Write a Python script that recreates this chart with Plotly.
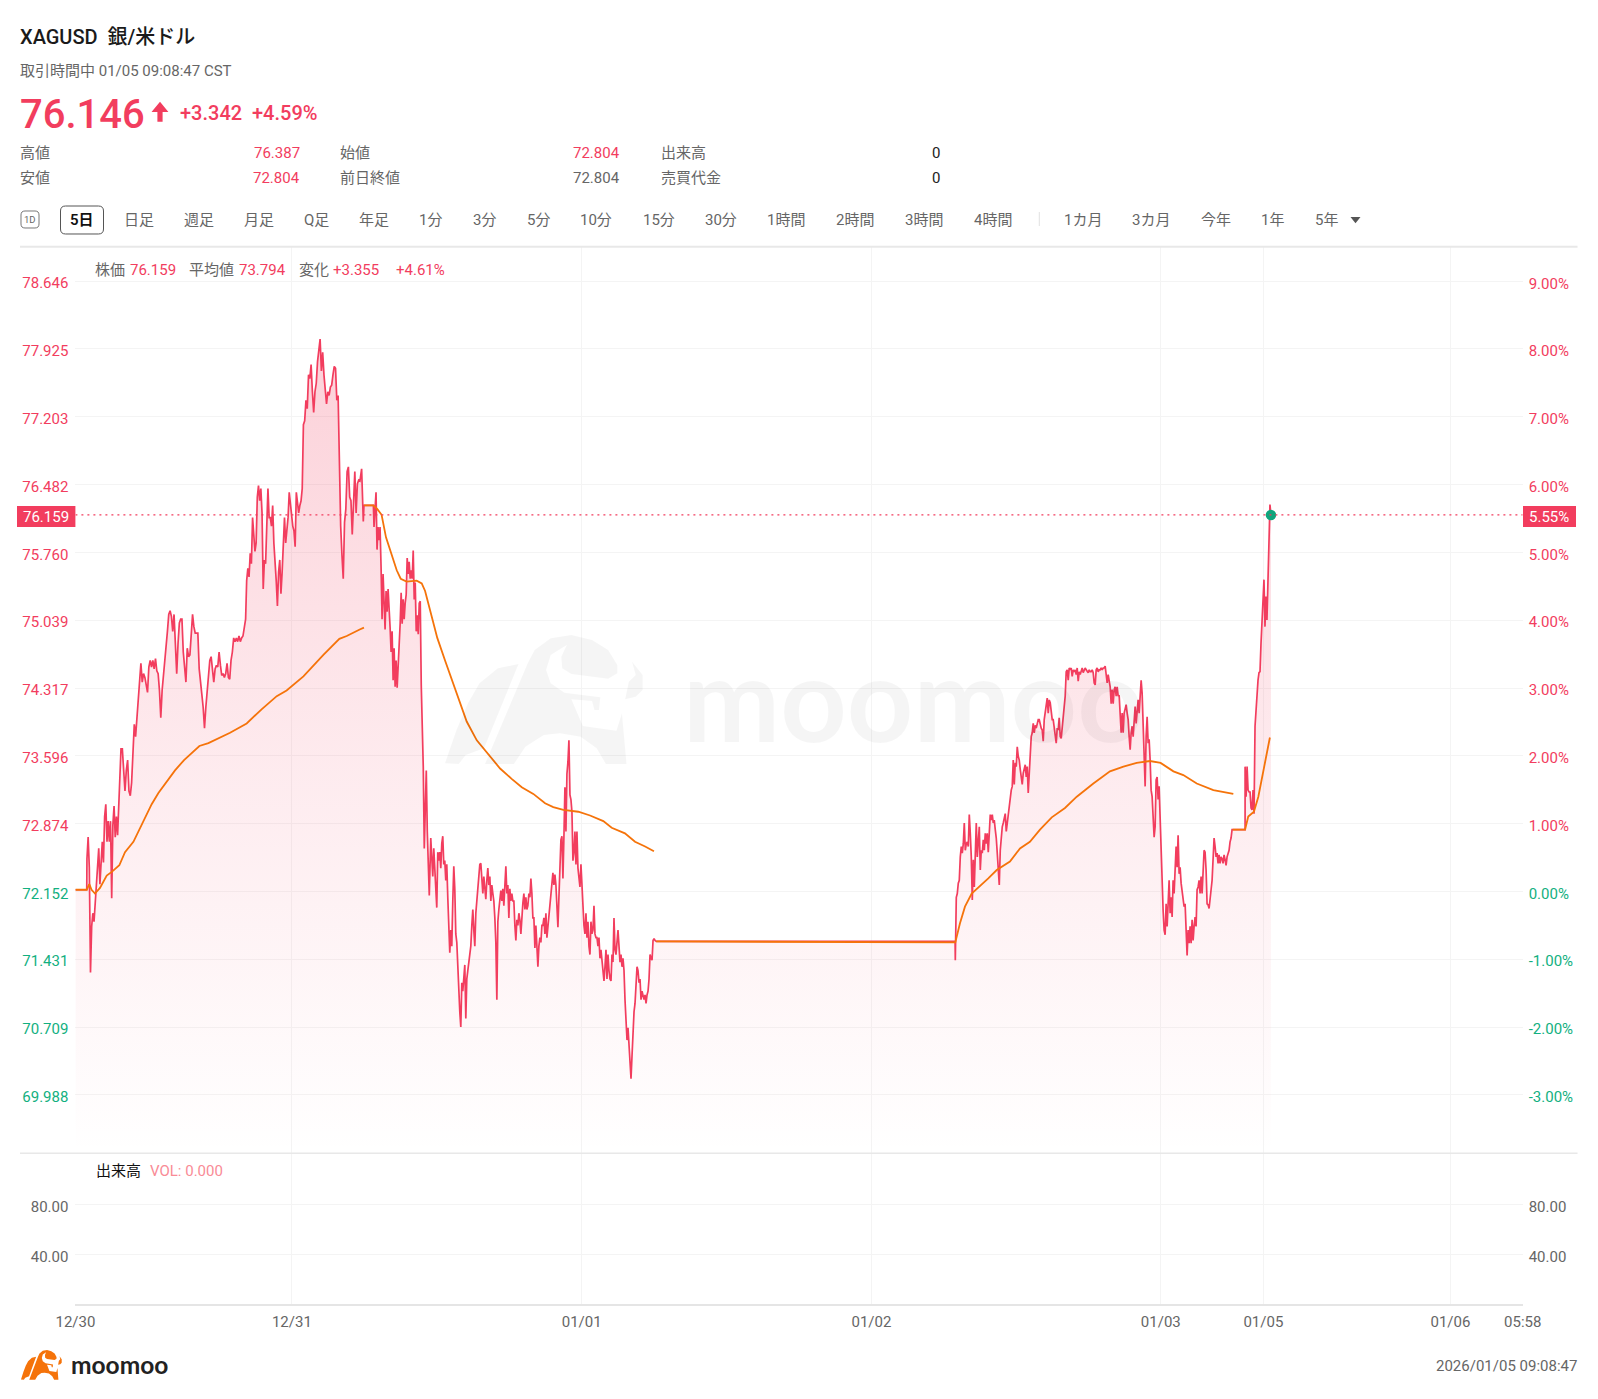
import numpy as np
import plotly.graph_objects as go

W, H = 1598, 1399
RED = "#F23D5E"
GREEN = "#12B07F"
ORANGE = "#F5730A"
GREY = "#666666"
GRID = "#F4F4F4"
FONT = "Roboto, 'Noto Sans CJK JP', sans-serif"

# ---------- data: minutes since 12/30 session open, prices ----------
price_base = 72.152
last_price = 76.159

price_open_flat = [72.17, 72.17]
price_1230_a = [72.50, 72.73, 72.41, 71.29, 71.78, 71.92, 71.83, 72.01, 72.23, 72.32, 72.61, 72.23, 72.50, 72.68, 72.46,
                72.95, 73.08, 72.68, 72.90, 72.68, 72.90, 72.08, 72.86, 73.06, 72.73, 72.95, 72.75, 73.04, 73.49]
price_1230_b = [73.67, 73.67, 73.44, 73.22, 73.44, 73.55, 73.22, 73.17, 73.31, 73.58, 73.93, 73.80, 73.98, 74.20, 74.43,
                74.58, 74.38, 74.47, 74.43, 74.34, 74.27, 74.54, 74.61, 74.54, 74.61, 74.52, 74.63, 74.50, 74.47, 74.29,
                74.00, 74.29, 74.43, 74.61, 74.79, 74.92, 75.10, 75.14, 75.08, 74.92, 75.10, 74.74, 74.47, 74.79, 75.01, 75.05]
price_1230_c = [75.05, 74.70, 74.54, 74.38, 74.74, 74.65, 74.67, 74.92, 75.10, 74.97, 74.90, 74.90, 74.90, 74.52, 74.34,
                74.25, 74.11, 73.89, 74.11, 74.29, 74.38, 74.61, 74.65, 74.52, 74.38, 74.52, 74.56, 74.54, 74.70, 74.56,
                74.45, 74.47, 74.43, 74.47, 74.58, 74.43, 74.41, 74.61, 74.70, 74.85, 74.81, 74.85, 74.81, 74.87, 74.81,
                74.85, 74.87, 74.96, 75.05]
price_1230_d = [75.46, 75.59, 75.50, 75.75, 75.64, 76.13, 75.95, 75.77, 75.86, 76.35, 76.47, 76.31, 76.44, 76.18, 75.37,
                75.68, 75.64, 75.95, 76.44, 76.13, 76.13, 76.04, 76.26, 75.86, 75.68, 75.46, 75.19, 75.55, 75.68, 75.32,
                75.55, 75.82, 76.13, 75.86, 75.99, 76.13, 76.40, 76.26, 76.18, 76.04, 75.99, 75.82, 76.40, 76.31, 76.18,
                76.26, 76.31, 76.44, 77.12]
price_1231_a = [77.16, 77.38, 77.29, 77.65, 77.61, 77.76, 77.47, 77.25, 77.47, 77.56, 77.79, 77.92, 78.03, 77.69, 77.89,
                77.65, 77.52, 77.34, 77.47, 77.43, 77.52, 77.54, 77.65, 77.74, 77.72, 77.38, 77.43, 76.53, 76.04, 75.73,
                75.48, 76.08, 76.22, 76.62, 76.67, 76.35, 76.31, 75.95, 76.35, 76.62, 76.18, 76.49, 76.53]
price_1231_b = [76.52, 76.65, 76.09]
price_1231_flat = [76.26, 76.26]
price_1231_c = [76.03, 76.22, 76.40, 75.79, 76.03, 75.89, 76.03, 75.61, 75.05, 75.53, 75.22, 74.94, 75.35, 75.13, 75.37,
                75.05, 74.96, 74.70, 74.92, 74.40, 74.74, 74.33, 74.61, 74.32, 74.53, 74.74, 75.00, 75.33, 75.00, 75.26,
                75.05, 75.22, 75.31, 75.70, 75.53, 75.66, 75.48, 75.57, 75.48, 75.78, 75.26, 75.44, 74.92, 75.09, 74.89,
                75.22, 75.24, 74.35, 73.92, 73.48, 72.61, 73.13, 73.44, 72.79, 72.35, 72.11]
price_1231_d = [72.72, 72.53, 72.31, 72.61, 72.35, 72.13, 71.98, 72.57, 72.48, 72.57, 72.40, 72.66, 72.74, 72.44, 72.48,
                72.27, 72.44, 72.09, 71.74, 71.50, 71.74, 71.57, 72.05, 72.42, 72.18, 71.70, 71.61, 71.31, 71.05, 70.87,
                70.71, 71.18, 71.09, 71.27, 71.37, 70.80, 71.22, 71.31, 71.40, 71.48, 71.57, 71.79, 71.96, 71.74, 71.57,
                71.92, 72.05, 72.18, 72.31, 72.44, 72.45, 72.22, 72.13, 72.31, 72.18, 72.07, 72.27, 72.40, 72.22, 72.31,
                72.05, 72.22, 72.13, 72.05, 71.87, 71.61, 71.00, 71.83, 71.96, 72.05, 72.16, 72.05, 72.18, 72.00, 72.22,
                72.42, 72.13, 72.22, 71.87, 72.18, 72.05, 72.13, 72.05, 72.05, 71.79, 71.63, 71.85, 71.79, 71.92, 71.85,
                71.70, 71.92, 72.03, 72.13, 71.96, 72.09, 71.96, 72.00, 72.13, 72.09, 72.29, 72.13, 71.87, 71.87, 71.55,
                71.79, 71.57, 71.35, 71.57, 71.66, 71.61, 71.79, 71.79, 71.87, 71.70, 71.92, 71.66, 71.79, 71.92, 72.05,
                72.09, 72.31, 72.35, 72.22, 72.33, 72.22, 71.87, 71.77, 72.09, 72.35, 72.70, 72.74, 72.29, 72.74, 73.26,
                72.79, 73.40, 73.53, 73.76, 73.18, 73.13, 73.00, 72.48, 72.57, 72.79, 72.44, 72.79, 72.40, 72.31, 72.20,
                72.44, 72.18, 71.96, 71.79, 71.70, 71.92, 71.66, 71.83, 71.57, 71.48, 71.83, 71.70, 71.74, 72.00, 71.70,
                71.66, 71.66, 71.57, 71.66, 71.44, 71.53, 71.40, 71.31, 71.20, 71.35, 71.53, 71.22, 71.48, 71.31, 71.22,
                71.20, 71.48, 71.40, 71.87, 71.53, 71.48, 71.61, 71.74, 71.57, 71.40, 71.48, 71.35, 71.44, 71.31, 71.00,
                70.83, 70.57, 70.70, 70.53, 70.40, 70.16, 70.40, 70.70, 70.87, 70.96, 71.18, 71.35, 71.31, 71.18, 71.22,
                71.00, 71.09, 71.05, 71.00, 71.05, 70.96, 71.05, 71.09, 71.22, 71.48, 71.44, 71.42, 71.63, 71.65, 71.63, 71.62]
price_closed_flat = [71.62, 71.62]
price_0102 = [71.42, 72.09, 72.13, 72.24, 72.27, 72.52, 72.63, 72.56, 72.66, 72.88, 72.59, 72.66, 72.68, 72.63, 72.97,
              72.77, 72.52, 72.06, 72.49, 72.20, 72.52, 72.88, 72.52, 72.70, 72.84, 72.38, 72.59, 72.56, 72.70, 72.59,
              72.77, 72.66, 72.77, 72.57, 72.84, 72.97, 72.91, 72.97, 72.88, 72.91, 72.81, 72.72, 72.56, 72.38, 72.22,
              72.59, 72.77, 72.84, 72.88, 72.93, 72.98, 72.79, 72.88, 72.98, 73.09, 73.16, 73.23, 73.27, 73.55, 73.29,
              73.52, 73.48, 73.69, 73.59, 73.55, 73.45, 73.37, 73.29, 73.41, 73.48, 73.50, 73.37, 73.48, 73.20, 73.41,
              73.66, 73.80, 73.84, 73.94, 73.84, 73.92, 73.89, 73.94, 73.98, 73.98, 73.91, 73.89, 73.87, 73.75, 73.98,
              74.05, 74.12, 74.21, 74.05, 74.19, 74.16, 74.08, 73.98, 73.98, 73.87, 73.80, 73.73, 73.89, 73.87, 74.00,
              73.80, 73.78, 73.89, 73.98, 74.08, 74.23, 74.49, 74.51, 74.40, 74.53, 74.51, 74.53, 74.44, 74.51, 74.49,
              74.51, 74.46, 74.53, 74.39, 74.49, 74.46, 74.51, 74.53, 74.48, 74.51, 74.53, 74.51, 74.49, 74.48, 74.51,
              74.49, 74.49, 74.51, 74.48, 74.37, 74.35, 74.51, 74.53, 74.49, 74.51, 74.51, 74.53, 74.51, 74.53, 74.53,
              74.55, 74.46, 74.37, 74.46, 74.40, 74.33, 74.15, 74.30, 74.15, 74.30, 74.33, 74.23, 74.33, 74.23, 74.24,
              74.08, 73.84, 74.05, 73.84, 74.05, 74.12, 74.14, 74.05, 73.98, 73.80, 73.66, 73.84, 73.91, 73.80, 73.98,
              74.12, 73.94, 74.08, 74.19, 74.05, 74.33, 74.40, 74.26, 73.84, 73.52, 73.27, 73.80, 74.01, 73.73, 73.77,
              73.55, 73.23, 73.16, 72.98, 72.73, 72.84, 73.34, 73.37, 73.13, 73.27, 72.95, 72.41, 72.13, 71.95, 71.74,
              71.69, 72.02, 71.78, 72.02, 72.27, 71.92, 72.09, 71.88, 72.27, 72.13, 72.41, 72.63, 72.41, 72.75, 72.34,
              72.41, 72.24, 72.13, 72.06, 71.99, 72.02, 71.78, 71.47, 71.74, 71.60, 71.78, 71.60, 71.85, 71.63, 71.78,
              71.88, 71.78, 72.17, 72.20, 72.27, 72.13, 72.31, 72.13, 72.31, 72.59, 72.57, 72.38, 72.02, 72.01, 71.97,
              72.13, 72.17, 72.27, 72.45, 72.72, 72.63, 72.52, 72.56, 72.45, 72.54, 72.45, 72.52, 72.50, 72.45, 72.54,
              72.49, 72.43, 72.52, 72.56, 72.59, 72.68, 72.72, 72.81]
price_0103_flat = [72.81, 72.81]
price_0105 = [73.48, 73.16, 73.48, 73.23, 73.21, 73.21, 73.04, 73.02, 73.23, 72.98, 73.91, 74.12, 74.33, 74.40, 74.48,
              74.49, 74.79, 75.04, 75.22, 75.47, 74.97, 75.29, 75.04, 75.40, 75.82, 76.27, 76.159]

price_chunks = [price_open_flat, price_1230_a, price_1230_b, price_1230_c, price_1230_d, price_1231_a, price_1231_b,
                price_1231_flat, price_1231_c, price_1231_d, price_closed_flat, price_0102, price_0103_flat, price_0105]
chunk_start_min = [0, 55, 217, 507, 815, 1091, 1354, 1373, 1421, 1691, 2764, 4187, 5507, 5566]
chunk_end_min = [54, 212, 501, 810, 1085, 1348, 1370, 1418, 1684, 2763, 4186, 5504, 5566, 5689]

avg_a_min = [0, 54, 66, 77, 93, 117, 149, 173, 209, 236, 276, 323, 363, 395, 426, 474, 517, 590, 633, 688, 736, 815, 886,
             958, 1005, 1085, 1180, 1256, 1291, 1353, 1373]
avg_a = [72.17, 72.17, 72.23, 72.17, 72.13, 72.19, 72.32, 72.36, 72.43, 72.57, 72.68, 72.90, 73.08, 73.20, 73.29, 73.44,
         73.55, 73.70, 73.73, 73.79, 73.84, 73.94, 74.09, 74.23, 74.29, 74.44, 74.67, 74.84, 74.87, 74.94, 74.96]
avg_b_min = [1373, 1418, 1437, 1457, 1478, 1505, 1529, 1548, 1576, 1624, 1648, 1664, 1695, 1722, 1759, 1798, 1830, 1862,
             1910, 1965, 2021, 2076, 2124, 2179, 2235, 2274, 2322, 2393, 2449, 2512, 2552, 2615, 2663, 2711, 2753]
avg_b = [76.26, 76.26, 76.22, 76.16, 75.92, 75.74, 75.57, 75.48, 75.45, 75.46, 75.43, 75.35, 75.09, 74.85, 74.61, 74.37,
         74.18, 73.96, 73.76, 73.61, 73.46, 73.35, 73.26, 73.19, 73.09, 73.05, 73.02, 73.00, 72.96, 72.90, 72.83, 72.77,
         72.68, 72.63, 72.58]
avg_c_min = [2764, 4187, 4209, 4233, 4265, 4305, 4344, 4384, 4447, 4495, 4542, 4590, 4646, 4709, 4765, 4844, 4923, 4987,
             5050, 5113, 5164, 5225, 5272, 5336, 5415, 5510]
avg_c = [71.62, 71.61, 71.81, 71.99, 72.13, 72.21, 72.29, 72.38, 72.47, 72.61, 72.68, 72.81, 72.94, 73.04, 73.16, 73.30,
         73.43, 73.48, 73.52, 73.54, 73.52, 73.43, 73.39, 73.30, 73.23, 73.19]
avg_d_min = [5507, 5566, 5581, 5608, 5629, 5653, 5684]
avg_d = [72.81, 72.81, 72.95, 73.00, 73.16, 73.45, 73.79]

volume_zero = [0, 0]

price_ticks = [78.646, 77.925, 77.203, 76.482, 75.760, 75.039, 74.317, 73.596, 72.874, 72.152, 71.431, 70.709, 69.988]
percent_ticks = [9, 8, 7, 6, 5, 4, 3, 2, 1, 0, -1, -2, -3]
volume_ticks = [80, 40]
time_tick_min = [0, 1030, 2409, 3788, 5165, 5653, 6543, 6887]
time_tick_text = ["12/30", "12/31", "01/01", "01/02", "01/03", "01/05", "01/06", "05:58"]

toolbar_labels = ["日足", "週足", "月足", "Q足", "年足", "1分", "3分", "5分", "10分", "15分", "30分", "1時間", "2時間", "3時間",
                  "4時間", "1カ月", "3カ月", "今年", "1年", "5年"]
toolbar_centers = [139.3, 198.5, 258.5, 316.3, 373.5, 430.6, 484, 538, 596.4, 658.7, 721.4, 786.2, 854.6, 923.5, 993.4,
                   1082.7, 1151, 1216.3, 1272.5, 1326]

# ---------- helpers ----------
def px(x): return x / W
def py(y): return 1 - y / H

annotations, shapes = [], []

def text(s, x, y, size=15, color=GREY, anchor="left", weight=None, family=FONT):
    f = dict(size=size, color=color, family=family)
    if weight: f["weight"] = weight
    annotations.append(dict(text=s, x=px(x), y=py(y), xref="paper", yref="paper", xanchor=anchor, yanchor="middle",
                            showarrow=False, font=f, borderpad=0, borderwidth=0))

def poly(points, fill, layer="above"):
    d = "M " + " L ".join(f"{px(a):.5f},{py(b):.5f}" for a, b in points) + " Z"
    shapes.append(dict(type="path", path=d, xref="paper", yref="paper", fillcolor=fill, line=dict(width=0), layer=layer))

def rect(x0, y0, x1, y1, fill=None, line=None, lw=1, layer="above"):
    shapes.append(dict(type="rect", xref="paper", yref="paper", x0=px(x0), x1=px(x1), y0=py(y0), y1=py(y1),
                       fillcolor=fill or "rgba(0,0,0,0)", line=dict(width=lw if line else 0, color=line or "rgba(0,0,0,0)"), layer=layer))

def roundrect(x0, y0, x1, y1, r, line, lw=1):
    sx = lambda v: f"{px(v):.5f}"
    sy = lambda v: f"{py(v):.5f}"
    d = (f"M {sx(x0+r)},{sy(y0)} L {sx(x1-r)},{sy(y0)} Q {sx(x1)},{sy(y0)} {sx(x1)},{sy(y0+r)} L {sx(x1)},{sy(y1-r)} "
         f"Q {sx(x1)},{sy(y1)} {sx(x1-r)},{sy(y1)} L {sx(x0+r)},{sy(y1)} Q {sx(x0)},{sy(y1)} {sx(x0)},{sy(y1-r)} "
         f"L {sx(x0)},{sy(y0+r)} Q {sx(x0)},{sy(y0)} {sx(x0+r)},{sy(y0)} Z")
    shapes.append(dict(type="path", path=d, xref="paper", yref="paper", line=dict(width=lw, color=line)))

def hline(x0, x1, y, color, lw):
    shapes.append(dict(type="line", xref="paper", yref="paper", x0=px(x0), x1=px(x1), y0=py(y), y1=py(y),
                       line=dict(color=color, width=lw)))

# bull mark outline, in a 433 x 390 design box
BULL = [
    [(0, 385), (30, 387), (45, 360), (85, 340), (160, 87), (115, 100), (75, 145), (50, 205), (25, 285)],
    [(87, 387), (150, 387), (175, 335), (215, 300), (250, 295), (295, 305), (330, 340), (350, 387), (395, 387), (385, 235),
     (373, 287), (300, 273), (275, 193), (320, 198), (325, 225), (335, 225), (338, 187), (260, 173), (230, 145), (220, 105),
     (230, 60), (265, 30), (253, 65), (255, 100), (275, 117), (355, 131), (375, 115), (375, 90), (355, 45), (320, 15),
     (275, 0), (230, 10), (195, 45), (180, 85)],
    [(407, 80), (430, 120), (430, 165), (415, 185), (392, 193), (400, 140), (415, 120)],
]

def bull(x0, y0, w, h, fill):
    for part in BULL:
        poly([(x0 + a / 433 * w, y0 + b / 390 * h) for a, b in part], fill)

# ---------- header ----------
text("XAGUSD  銀/米ドル", 20, 37, 20, "#1a1a1a", weight=500)
text("取引時間中 01/05 09:08:47 CST", 20, 70.5, 15, GREY)
text("76.146", 20, 115, 40, RED, weight=500)
poly([(160, 101.7), (168.4, 112), (162.6, 112), (162.6, 121.7), (157.4, 121.7), (157.4, 112), (151.5, 112)], RED)
text("+3.342", 180, 113, 20, RED, weight=500)
text("+4.59%", 252, 113, 20, RED, weight=500)

text("高値", 20.4, 152.5); text("安値", 20.4, 177.5)
text("76.387", 300, 152.5, color=RED, anchor="right"); text("72.804", 300, 177.5, color=RED, anchor="right")
text("始値", 340, 152.5); text("前日終値", 340, 177.5)
text("72.804", 620, 152.5, color=RED, anchor="right"); text("72.804", 620, 177.5, color=GREY, anchor="right")
text("出来高", 660.5, 152.5); text("売買代金", 660.5, 177.5)
text("0", 940, 152.5, color="#222222", anchor="right"); text("0", 940, 177.5, color="#222222", anchor="right")

# ---------- toolbar ----------
roundrect(21, 211, 39, 228, 4, "#777777")
text("1D", 30, 219.5, 9.5, "#666666", anchor="center")
roundrect(60.5, 206, 103.5, 234, 5, "#555555")
text("5日", 82, 220, 15, "#111111", anchor="center", weight=600)
for lab, cx in zip(toolbar_labels, toolbar_centers):
    text(lab, cx, 220, 15, GREY, anchor="center")
hline(1039.3, 1039.3, 212, "#e2e2e2", 1)
shapes[-1]["y1"] = py(226)
poly([(1350.5, 217), (1360.5, 217), (1355.5, 223.3)], "#555555")
hline(20, 1577.5, 246.7, "#E8E8E8", 2)

# ---------- chart labels ----------
for s, x, c in [("株価", 95.4, GREY), ("76.159", 130, RED), ("平均値", 188.8, GREY), ("73.794", 238.8, RED),
                ("変化", 298.5, GREY), ("+3.355", 332.7, RED), ("+4.61%", 396.4, RED)]:
    text(s, x, 270, 15, c)
text("出来高", 96, 1170.5, 15, "#111111")
text("VOL: 0.000", 150, 1170.5, 15, "#F98B96")
hline(20, 1577.5, 1153.3, "#E8E8E8", 1.5)

# current-price markers
rect(17, 506, 75.4, 527, fill=RED)
text("76.159", 46, 516.5, 15, "#ffffff", anchor="center")
rect(1523, 506, 1576, 527, fill=RED)
text("5.55%", 1549, 516.5, 15, "#ffffff", anchor="center")
shapes.append(dict(type="line", xref="x", yref="y", x0=0, x1=6887, y0=last_price, y1=last_price,
                   line=dict(color=RED, width=1.2, dash="2px,4px")))

# watermark
bull(445, 635, 199, 130, "rgba(0,0,0,0.04)")
text("moomoo", 683, 698, 116, "rgba(0,0,0,0.04)", weight=700, family="Lato")

# footer
bull(21, 1350, 41, 30, ORANGE)
text("moomoo", 71, 1364.5, 24.5, "#222222", weight=700, family="Lato")
text("2026/01/05 09:08:47", 1577, 1366, 15, GREY, anchor="right")

# ---------- traces ----------
t_all, p_all = [], []
for vals, a, b in zip(price_chunks, chunk_start_min, chunk_end_min):
    t_all.extend(np.linspace(a, b, len(vals)).tolist())
    p_all.extend(vals)

fig = go.Figure()
fig.add_trace(go.Scatter(
    x=t_all, y=p_all, mode="lines", line=dict(color=RED, width=1.7), fill="tozeroy",
    fillgradient=dict(type="vertical", start=69.365, stop=78.1,
                      colorscale=[[0, "rgba(242,61,94,0.0)"], [0.45, "rgba(242,61,94,0.10)"], [1, "rgba(242,61,94,0.24)"]]),
    hoverinfo="skip", showlegend=False))
for tt, vv in [(avg_a_min, avg_a), (avg_b_min, avg_b), (avg_c_min, avg_c), (avg_d_min, avg_d)]:
    fig.add_trace(go.Scatter(x=tt, y=vv, mode="lines", line=dict(color=ORANGE, width=1.8), hoverinfo="skip", showlegend=False))
fig.add_trace(go.Scatter(x=[t_all[-1]], y=[last_price], mode="markers", marker=dict(color="#0FA57C", size=10.5),
                         hoverinfo="skip", showlegend=False))
fig.add_trace(go.Scatter(x=[0, 6887], y=[0, 0], yaxis="y3", mode="lines", line=dict(width=0), hoverinfo="skip", showlegend=False))
fig.add_trace(go.Scatter(x=[0, 6887], y=volume_zero, xaxis="x2", yaxis="y2", mode="lines", line=dict(width=0), hoverinfo="skip", showlegend=False))
fig.add_trace(go.Scatter(x=[0, 6887], y=volume_zero, xaxis="x2", yaxis="y4", mode="lines", line=dict(width=0), hoverinfo="skip", showlegend=False))

def colored(label, is_up):
    return f'<span style="color:{RED if is_up else GREEN}">{label}</span>'

price_text = [colored(f"{v:.3f}", v > price_base) for v in price_ticks]
percent_text = [colored(f"{v:.2f}%", v > 0) for v in percent_ticks]
vol_text = [f"{v:.2f}" for v in volume_ticks]

xdom = [75.4 / W, 1522.7 / W]
def tick(n, shift=0):
    return dict(tickfont=dict(size=15, color=GREY, family=FONT), ticks="outside", ticklen=n, tickcolor="rgba(0,0,0,0)",
                tickwidth=0, ticklabelshift=shift)
fig.update_layout(
    width=W, height=H, autosize=False, margin=dict(l=0, r=0, t=0, b=0, autoexpand=False), paper_bgcolor="white", plot_bgcolor="white",
    showlegend=False, annotations=annotations, shapes=shapes, font=dict(family=FONT),
    xaxis=dict(domain=xdom, range=[0, 6887], anchor="y", tickvals=time_tick_min, showticklabels=False, showgrid=True,
               gridcolor=GRID, gridwidth=1, zeroline=False, ticks=""),
    xaxis2=dict(domain=xdom, range=[0, 6887], anchor="y2", matches="x", tickvals=time_tick_min, ticktext=time_tick_text,
                showgrid=True, gridcolor=GRID, gridwidth=1, zeroline=False, showline=True, linecolor="#E5E5E5", linewidth=2,
                tickangle=0, **tick(3)),
    yaxis=dict(domain=[py(1153.3), py(246.7)], range=[69.365, 79.0135], anchor="x", tickvals=price_ticks, ticktext=price_text,
               showgrid=True, gridcolor=GRID, gridwidth=1, zeroline=False, **tick(3, 2)),
    yaxis3=dict(domain=[py(1153.3), py(246.7)], range=[-3.863, 9.51], anchor="x", overlaying="y", side="right",
                tickvals=percent_ticks, ticktext=percent_text, showgrid=False, zeroline=False, **tick(2, 2)),
    yaxis2=dict(domain=[py(1304.3), py(1153.3)], range=[0, 120.8], anchor="x2", tickvals=volume_ticks, ticktext=vol_text,
                showgrid=True, gridcolor=GRID, gridwidth=1, zeroline=False, **tick(3, 2)),
    yaxis4=dict(domain=[py(1304.3), py(1153.3)], range=[0, 120.8], anchor="x2", overlaying="y2", side="right",
                tickvals=volume_ticks, ticktext=vol_text, showgrid=False, zeroline=False, **tick(2, 2)),
)

fig.write_html("out.html", config=dict(displayModeBar=False),
               post_script="document.body.style.margin='0';document.documentElement.style.overflow='hidden';")
